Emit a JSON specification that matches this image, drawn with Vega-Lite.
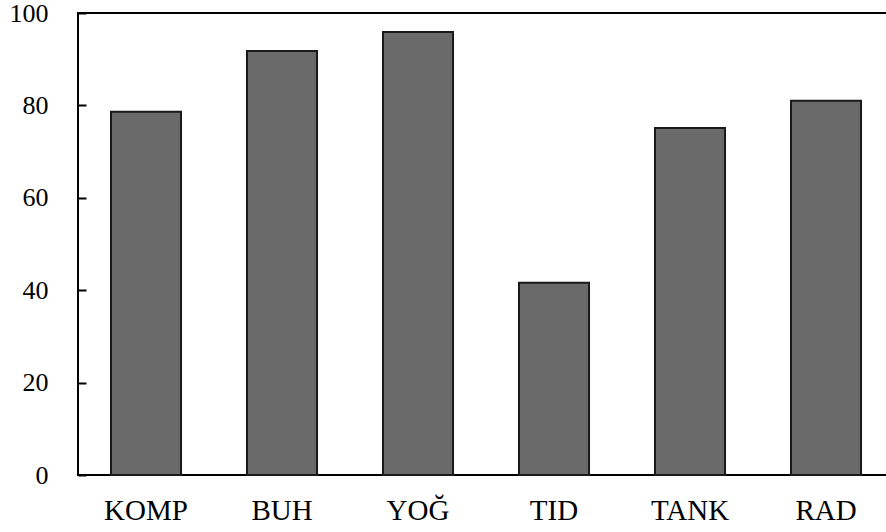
{
  "$schema": "https://vega.github.io/schema/vega-lite/v6.json",
  "autosize": {"type": "none"},
  "padding": {"left": 78, "top": 13, "right": 0, "bottom": 57},
  "width": 816,
  "height": 462,
  "background": "white",
  "config": {
    "view": {"stroke": "#000000", "strokeWidth": 2},
    "font": "Liberation Serif"
  },
  "data": {
    "values": [
      {"cat": "KOMP", "value": 78.6},
      {"cat": "BUH", "value": 91.8},
      {"cat": "YOĞ", "value": 95.9},
      {"cat": "TID", "value": 41.6},
      {"cat": "TANK", "value": 75.1},
      {"cat": "RAD", "value": 81.0}
    ]
  },
  "mark": {"type": "bar", "fill": "#6a6a6a", "stroke": "#1a1a1a", "strokeWidth": 2},
  "encoding": {
    "x": {
      "field": "cat", "type": "nominal", "sort": null,
      "scale": {"paddingInner": 0.485, "paddingOuter": 0.2425},
      "axis": {"title": null, "labelAngle": 0, "ticks": false, "domain": false, "labelFont": "Liberation Serif", "labelFontSize": 29, "labelColor": "#000", "labelPadding": 21}
    },
    "y": {
      "field": "value", "type": "quantitative",
      "scale": {"domain": [0, 100], "nice": false},
      "axis": {"title": null, "values": [0, 20, 40, 60, 80, 100], "grid": false, "domain": false, "tickSize": -8, "tickColor": "#000", "tickWidth": 2, "labelFont": "Liberation Serif", "labelFontSize": 26, "labelColor": "#000", "labelPadding": 38}
    }
  }
}
